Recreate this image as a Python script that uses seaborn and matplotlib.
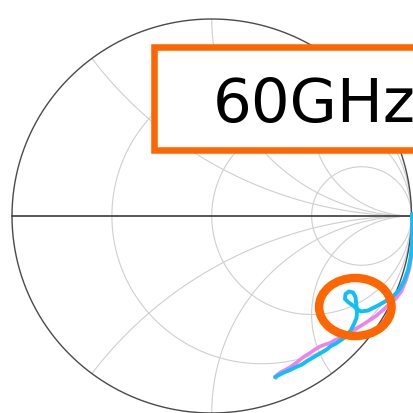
import numpy as np
import pandas as pd
import matplotlib
matplotlib.use("Agg")
import matplotlib.pyplot as plt
from matplotlib.patches import Rectangle, Ellipse
import seaborn as sns

# Smith chart grid values
r_circles = [1 / 3, 1.0, 3.0]
x_arcs = [0.5, 1.0, 2.0]

# Reflection coefficient traces (real, imaginary)
blue_re = [1.0025, 1.005, 1.0025, 0.995, 0.9825, 0.9625, 0.9374, 0.9074, 0.8723,
           0.8273, 0.7822, 0.7472, 0.7272, 0.7071, 0.6821, 0.6671, 0.6696, 0.6871,
           0.7071, 0.7197, 0.7222, 0.7247, 0.7272, 0.7247, 0.7121, 0.6971, 0.6746,
           0.6471, 0.6220, 0.5970, 0.5720, 0.5369, 0.5069, 0.4768, 0.4518, 0.4218,
           0.3917, 0.3617, 0.3367, 0.3166]
blue_im = [0.0102, -0.0711, -0.1472, -0.2132, -0.2741, -0.3299, -0.3756, -0.4086,
           -0.4315, -0.4569, -0.4797, -0.4848, -0.4721, -0.4543, -0.4365, -0.4213,
           -0.3959, -0.3832, -0.3883, -0.4112, -0.4365, -0.4619, -0.4873, -0.5178,
           -0.5482, -0.5787, -0.6091, -0.6294, -0.6472, -0.6599, -0.6802, -0.7005,
           -0.7183, -0.7360, -0.7538, -0.7665, -0.7817, -0.7944, -0.8071, -0.8173]

pink_re = [1.0025, 1.005, 1.0000, 0.9900, 0.9725, 0.9499, 0.9199, 0.8899, 0.8573,
           0.8223, 0.7922, 0.7572, 0.7272, 0.6921, 0.6671, 0.6421, 0.6170, 0.5920,
           0.5670, 0.5419, 0.5169, 0.4919, 0.4668, 0.4468, 0.4218, 0.3967, 0.3717,
           0.3467, 0.3267, 0.3217]
pink_im = [0.0, -0.1218, -0.1980, -0.2640, -0.3249, -0.3807, -0.4213, -0.4467,
           -0.4772, -0.5076, -0.5279, -0.5508, -0.5685, -0.5888, -0.6041, -0.6193,
           -0.6294, -0.6447, -0.6523, -0.6624, -0.6777, -0.6954, -0.7107, -0.7259,
           -0.7462, -0.7640, -0.7792, -0.7919, -0.8071, -0.8223]

label_text = "60GHz"

sns.set_style("white")
fig = plt.figure(figsize=(4.13, 4.13), dpi=100)
ax = fig.add_axes([0, 0, 1, 1])

grid_c = "#cfcfcf"
t = np.linspace(0, 2 * np.pi, 1441)

# constant-resistance circles
for r in r_circles:
    c, rad = r / (1 + r), 1 / (1 + r)
    ax.plot(c + rad * np.cos(t), rad * np.sin(t), color=grid_c, lw=0.8, zorder=1)

# constant-reactance arcs, clipped to the unit circle
for x in x_arcs:
    for s in (1, -1):
        cx, cy, rad = 1.0, s / x, 1 / x
        px = cx + rad * np.cos(t)
        py = cy + rad * np.sin(t)
        inside = px ** 2 + py ** 2 <= 1.0001
        px = np.where(inside, px, np.nan)
        py = np.where(inside, py, np.nan)
        ax.plot(px, py, color=grid_c, lw=0.8, zorder=1)

# outer boundary and real axis
ax.plot(np.cos(t), np.sin(t), color="#4a4a4a", lw=1.0, zorder=2)
ax.plot([-1, 1], [0, 0], color="#3a3a3a", lw=1.2, zorder=2)

pink = pd.DataFrame({"re": pink_re, "im": pink_im})
blue = pd.DataFrame({"re": blue_re, "im": blue_im})
sns.lineplot(data=pink, x="re", y="im", sort=False, estimator=None,
             color="#f080f0", lw=2.6, ax=ax, zorder=3)
sns.lineplot(data=blue, x="re", y="im", sort=False, estimator=None,
             color="#10bff5", lw=2.8, ax=ax, zorder=4)

sx, cx0 = 199.75, 211.75
sy, cy0 = 197.0, 216.0
ax.set_xlim(-cx0 / sx, (413 - cx0) / sx)
ax.set_ylim(-(413 - cy0) / sy, cy0 / sy)
ax.set_axis_off()

orange = "#ff6600"
# highlight ring
ax.add_patch(Ellipse(((355.3 - cx0) / sx, (cy0 - 307) / sy), 72.5 / sx, 58 / sy,
                     fill=False, ec=orange, lw=6.1, zorder=6))

# frequency label box
ax.add_patch(Rectangle((154 / 413, 1 - 150 / 413), 300 / 413, 102.5 / 413,
                       transform=ax.transAxes, fc="white", ec=orange, lw=4.7,
                       zorder=7, clip_on=False))
ax.text(212.5 / 413, 1 - 121.7 / 413, label_text, transform=ax.transAxes,
        fontsize=44, family="DejaVu Sans", va="baseline", ha="left",
        color="black", zorder=8)

fig.savefig("out.png", dpi=100)
